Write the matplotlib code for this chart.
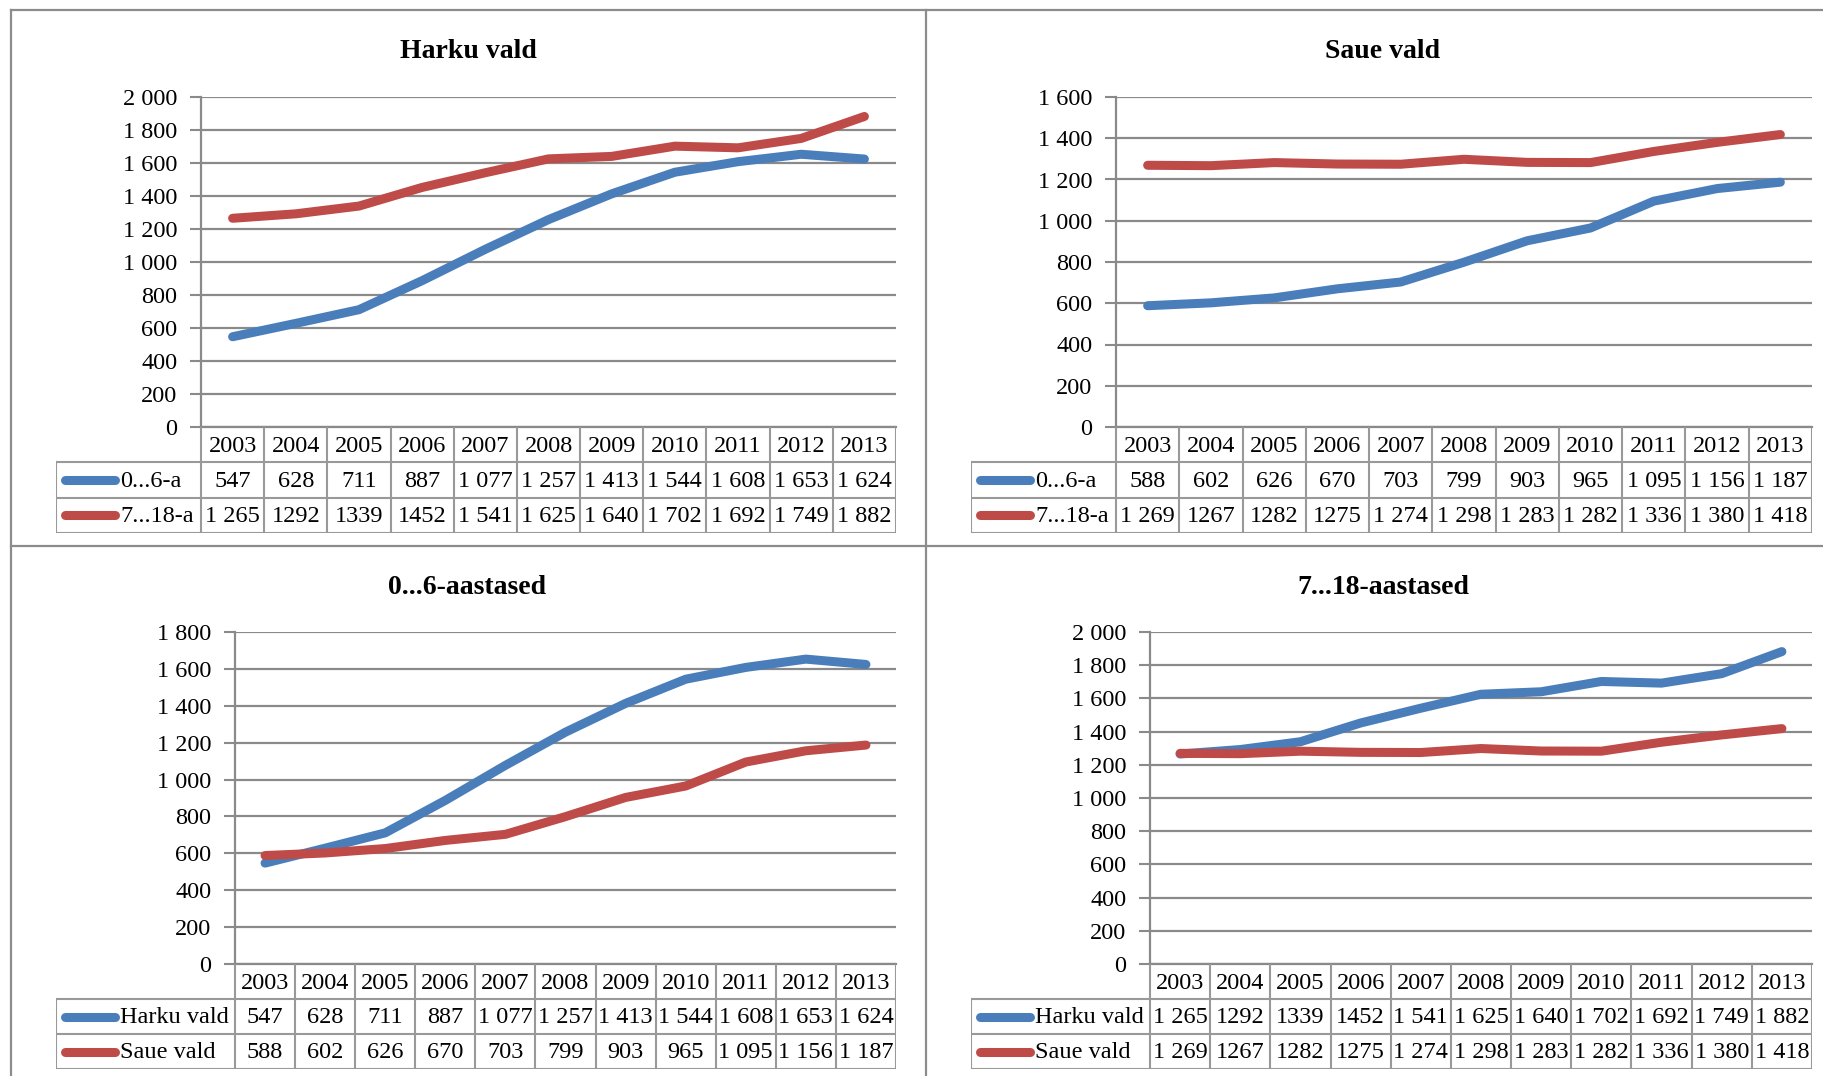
import matplotlib
matplotlib.use("Agg")
import matplotlib.pyplot as plt
from matplotlib.lines import Line2D

plt.rcParams['font.family'] = ['Liberation Serif', 'DejaVu Serif']

## Data (table texts as printed, numbers derived from them)
years = ["2003", "2004", "2005", "2006", "2007", "2008", "2009", "2010", "2011", "2012", "2013"]

harku_0_6 = ["547", "628", "711", "887", "1 077", "1 257", "1 413", "1 544", "1 608", "1 653", "1 624"]
harku_7_18 = ["1 265", "1292", "1339", "1452", "1 541", "1 625", "1 640", "1 702", "1 692", "1 749", "1 882"]
saue_0_6 = ["588", "602", "626", "670", "703", "799", "903", "965", "1 095", "1 156", "1 187"]
saue_7_18 = ["1 269", "1267", "1282", "1275", "1 274", "1 298", "1 283", "1 282", "1 336", "1 380", "1 418"]

BLUE = "#4A7EBB"
RED = "#BE4B48"
GRID = "#8A8A8A"
EDGE = "#999999"
FS = 17.5

W, H = 1823, 1076
fig = plt.figure(figsize=(W / 100, H / 100), dpi=100)


def fmt(v):
    return "{:,}".format(int(v)).replace(",", " ")


def panel(title, title_xy, box, table_left, rows, ymax, series):
    # box = (left, top, right, bottom) of the plot area in pixels
    pl, pt, pr, pb = box
    ax = fig.add_axes([pl / W, 1 - pb / H, (pr - pl) / W, (pb - pt) / H])
    x = range(len(years))
    for labels, name, col in series:
        vals = [int(s.replace(" ", "")) for s in labels]
        ax.plot(x, vals, color=col, lw=6.5, solid_capstyle="round",
                solid_joinstyle="round", zorder=3)
    ax.set_xlim(-0.5, len(years) - 0.5)
    ax.set_ylim(0, ymax)
    ticks = list(range(0, ymax + 1, 200))
    ax.set_yticks(ticks)
    ax.set_yticklabels([fmt(t) for t in ticks], fontsize=FS)
    ax.set_xticks([])
    ax.tick_params(axis="y", length=8, width=1.5, color=GRID, pad=9)
    ax.yaxis.grid(True, color=GRID, lw=1.6)
    ax.set_axisbelow(True)
    for s in ["top", "right"]:
        ax.spines[s].set_visible(False)
    for s in ["left", "bottom"]:
        ax.spines[s].set_color(GRID)
        ax.spines[s].set_linewidth(1.6)
    ax.set_facecolor("none")

    fig.text(title_xy[0] / W, 1 - title_xy[1] / H, title, fontsize=20,
             fontweight="bold", ha="center", va="center")

    # data table below the plot
    colw = (pr - pl) / len(years)
    tb = rows[-1]
    tax = fig.add_axes([table_left / W, 1 - tb / H, (pr - table_left) / W, (tb - pb) / H])
    x0 = -0.5 - (pl - table_left) / colw
    tax.set_xlim(x0, len(years) - 0.5)
    tax.set_ylim(3, 0)
    tax.axis("off")
    lk = dict(color=EDGE, lw=1.5, solid_capstyle="projecting")
    for k in range(len(years) + 1):
        tax.plot([k - 0.5, k - 0.5], [0, 3], **lk)
    tax.plot([x0, x0], [1, 3], **lk)
    for yy in [1, 2, 3]:
        tax.plot([x0, len(years) - 0.5], [yy, yy], **lk)
    for i, yr in enumerate(years):
        tax.text(i, 0.55, yr, ha="center", va="center", fontsize=FS)
    for r, (labels, name, col) in enumerate(series):
        yy = 1.5 + r
        for i, s in enumerate(labels):
            tax.text(i, yy + 0.04, s, ha="center", va="center", fontsize=FS)
        tax.plot([x0 + 9 / colw, x0 + 59 / colw], [yy, yy], color=col, lw=6.5,
                 solid_capstyle="round")
        tax.text(x0 + 64 / colw, yy + 0.04, name, ha="left", va="center", fontsize=FS)


panel("Harku vald", (468, 51), (201, 97, 896, 427), 56, (427, 462, 497, 533), 2000,
      [(harku_0_6, "0...6-a", BLUE), (harku_7_18, "7...18-a", RED)])
panel("Saue vald", (1383, 51), (1116, 97, 1812, 427), 971, (427, 462, 497, 533), 1600,
      [(saue_0_6, "0...6-a", BLUE), (saue_7_18, "7...18-a", RED)])
panel("0...6-aastased", (467, 587), (235, 632, 896, 964), 56, (964, 997, 1033, 1069), 1800,
      [(harku_0_6, "Harku vald", BLUE), (saue_0_6, "Saue vald", RED)])
panel("7...18-aastased", (1383, 587), (1150, 632, 1812, 964), 971, (964, 997, 1033, 1069), 2000,
      [(harku_7_18, "Harku vald", BLUE), (saue_7_18, "Saue vald", RED)])

## Panel frame lines
frame = dict(color="#8C8C8C", lw=1.6, transform=fig.transFigure)
fig.add_artist(Line2D([11 / W, 11 / W], [0, 1 - 10 / H], **frame))
fig.add_artist(Line2D([11 / W, 1], [1 - 10 / H, 1 - 10 / H], **frame))
fig.add_artist(Line2D([926 / W, 926 / W], [0, 1 - 10 / H], **frame))
fig.add_artist(Line2D([11 / W, 1], [1 - 546 / H, 1 - 546 / H], **frame))

fig.savefig("out.png", dpi=100, facecolor="white")
